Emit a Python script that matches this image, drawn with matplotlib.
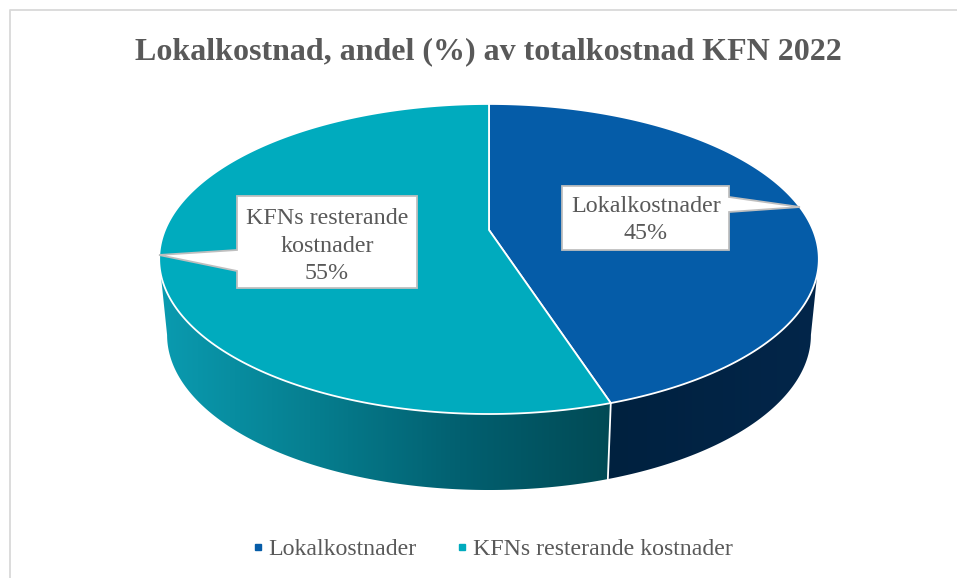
import numpy as np
import matplotlib
matplotlib.use('Agg')
import matplotlib.pyplot as plt
from matplotlib.colors import LinearSegmentedColormap
from matplotlib.lines import Line2D
from matplotlib.patches import Polygon

plt.rcParams['font.family'] = ['Liberation Serif', 'DejaVu Serif']

title = "Lokalkostnad, andel (%) av totalkostnad KFN 2022"
categories = ["Lokalkostnader", "KFNs resterande kostnader"]
shares = [45, 55]
callouts = ["Lokalkostnader\n45%", "KFNs resterande\nkostnader\n55%"]

top_colors = ['#055CA8', '#00ABBE']
text_color = '#595959'

# pie geometry in pixels, perspective keeps the apex above the ellipse centre
APEX_X, APEX_Y = 489, 230
A, B, K = 324, 149.6, -0.187
DEPTH = 76
BOTTOM_SCALE = 0.976


def project(t, bottom=False):
    d = 1 - K * np.cos(t)
    x = A * np.sin(t) / d
    y = B * np.cos(t) / d
    if bottom:
        return APEX_X + x * BOTTOM_SCALE, APEX_Y - y + DEPTH
    return APEX_X + x, APEX_Y - y


def draw_wall(t0, t1, cmap):
    t = np.linspace(t0, t1, 300)
    xa, ya = project(t)
    xb, yb = project(t, bottom=True)
    xs = np.r_[xa, xb[::-1]]
    ys = np.r_[ya, yb[::-1]]
    shape = Polygon(np.c_[xs, ys], closed=True, transform=ax.transData)
    # gradient runs left to right across the wall
    im = ax.imshow(np.linspace(0, 1, 512)[None, :], cmap=cmap, aspect='auto', zorder=1,
                   extent=(xs.min(), xs.max(), ys.max(), ys.min()))
    im.set_clip_path(shape)


fig = plt.figure(figsize=(9.57, 5.78), dpi=100)
ax = fig.add_axes([0, 0, 1, 1])
ax.axis('off')

# chart frame, only left and top are visible
ax.plot([9.5, 9.5, 957], [578, 9.5, 9.5], color='#D9D9D9', lw=1.3, zorder=0)

angles = 2 * np.pi * np.cumsum([0] + shares) / sum(shares)

# the wall is visible between the widest points of the ellipse
t_right = np.arccos(K)
t_left = 2 * np.pi - t_right

teal_wall = LinearSegmentedColormap.from_list('teal_wall', ['#0A9BB0', '#067F90', '#026070', '#014A55'])
navy_wall = LinearSegmentedColormap.from_list('navy_wall', ['#00213F', '#03264A'])
draw_wall(t_right, angles[1], navy_wall)
draw_wall(angles[1], t_left, teal_wall)

# white seam between the two wall parts
sx, sy = project(angles[1])
bx, by = project(angles[1], bottom=True)
ax.plot([sx, bx], [sy, by], color='white', lw=1.3, zorder=2)

for i in range(len(shares)):
    t = np.linspace(angles[i], angles[i + 1], 200)
    x, y = project(t)
    ax.fill(np.r_[APEX_X, x], np.r_[APEX_Y, y], facecolor=top_colors[i],
            edgecolor='white', lw=1.3, joinstyle='round', zorder=3)

# callouts: box with a pointer to the slice
box_1 = [(562, 186), (729, 186), (729, 197), (800, 207), (729, 212), (729, 250), (562, 250)]
box_2 = [(237, 196), (417, 196), (417, 288), (237, 288), (237, 271), (159, 255), (237, 250)]
for box in [box_1, box_2]:
    ax.fill(*zip(*box), facecolor='white', edgecolor='#BFBFBF', lw=1.3, zorder=4)
ax.text(646, 220, callouts[0], ha='center', va='center', fontsize=17.3,
        color=text_color, linespacing=1.38, zorder=5)
ax.text(327, 246, callouts[1], ha='center', va='center', fontsize=17.3,
        color=text_color, linespacing=1.38, zorder=5)

ax.text(488, 52, title, ha='center', va='center', fontsize=23, fontweight='bold',
        color=text_color)

handles = [Line2D([], [], linestyle='none', marker='s', markersize=5, color=c) for c in top_colors]
ax.legend(handles, categories, loc='center', bbox_to_anchor=(493, 549),
          bbox_transform=ax.transData, ncol=2, frameon=False, fontsize=17.2,
          labelcolor=text_color, handlelength=0.4, handletextpad=0.25, columnspacing=1.7)

ax.set_xlim(0, 957)
ax.set_ylim(578, 0)

fig.savefig('out.png', dpi=100)
